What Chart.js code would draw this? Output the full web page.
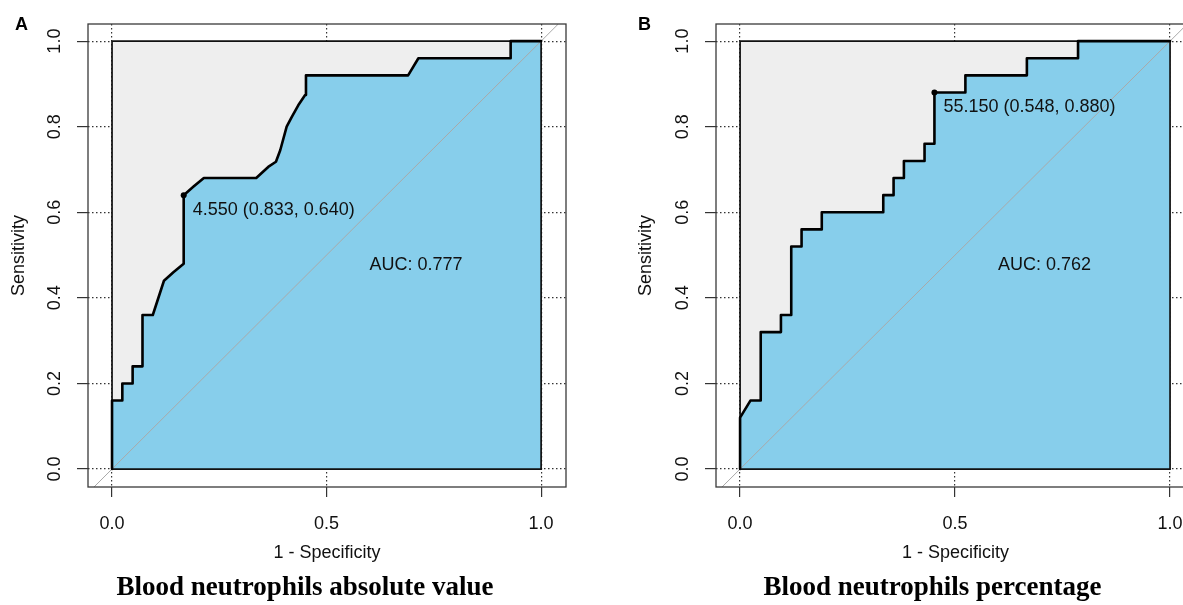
<!DOCTYPE html>
<html>
<head>
<meta charset="utf-8">
<title>ROC curves – blood neutrophils</title>
<script src="https://cdn.jsdelivr.net/npm/chart.js@4.4.1/dist/chart.umd.min.js"></script>
<style>
	html, body { margin: 0; padding: 0; background: #fff; overflow: hidden; }
	body { position: relative; width: 1183px; height: 605px; }
	canvas { position: absolute; top: 0; }
	.panel-tag { position: absolute; top: 15px; font: bold 18px/1 "Liberation Sans", Arial, sans-serif; color: #000; }
</style>
</head>
<body>
<canvas id="roc-abs" width="600" height="605" style="left: 0"></canvas>
<canvas id="roc-pct" width="600" height="605" style="left: 600px"></canvas>
<div class="panel-tag" style="left: 15px">A</div>
<div class="panel-tag" style="left: 638px">B</div>
<script>
'use strict';

// 1 - specificity / sensitivity
const FPR_ABS = [ 0, 0, 0.024, 0.024, 0.048, 0.048, 0.071, 0.071, 0.095, 0.121, 0.143, 0.167, 0.167, 0.19, 0.214,
	0.336, 0.364, 0.382, 0.392, 0.407, 0.419, 0.434, 0.45, 0.452, 0.69, 0.714, 0.929, 0.929, 1 ];
const TPR_ABS = [ 0, 0.16, 0.16, 0.2, 0.2, 0.24, 0.24, 0.36, 0.36, 0.44, 0.46, 0.48, 0.64, 0.66, 0.68,
	0.68, 0.706, 0.718, 0.745, 0.8, 0.823, 0.85, 0.874, 0.92, 0.92, 0.96, 0.96, 1, 1 ];

const FPR_PCT = [ 0, 0, 0.024, 0.048, 0.048, 0.095, 0.095, 0.119, 0.119, 0.143, 0.143, 0.19, 0.19, 0.333, 0.333,
	0.357, 0.357, 0.381, 0.381, 0.429, 0.429, 0.452, 0.452, 0.524, 0.524, 0.667, 0.667, 0.786, 0.786, 1 ];
const TPR_PCT = [ 0, 0.12, 0.16, 0.16, 0.32, 0.32, 0.36, 0.36, 0.52, 0.52, 0.56, 0.56, 0.6, 0.6, 0.64,
	0.64, 0.68, 0.68, 0.72, 0.72, 0.76, 0.76, 0.88, 0.88, 0.92, 0.92, 0.96, 0.96, 1, 1 ];

// best threshold points and their labels
const BEST_ABS = [ 0.167, 0.64 ];
const BEST_PCT = [ 0.452, 0.88 ];
const BEST_LABELS = [ '4.550 (0.833, 0.640)', '55.150 (0.548, 0.880)' ];
const AUC_LABELS = [ 'AUC: 0.777', 'AUC: 0.762' ];
const AUC_AT = [ 0.6, 0.5 ];
const TITLES = [ 'Blood neutrophils absolute value', 'Blood neutrophils percentage' ];

const X_TICKS = [ 0, 0.5, 1 ];
const Y_TICKS = [ 0, 0.2, 0.4, 0.6, 0.8, 1 ];
const X_RANGE = [ -0.056, 1.058 ];
const Y_RANGE = [ -0.042, 1.04 ];

Chart.defaults.font.family = '"Liberation Sans", Arial, sans-serif';
Chart.defaults.color = '#111';

const toPoints = ( xs, ys ) => xs.map( ( v, i ) => ( { x: v, y: ys[ i ] } ) );

// box round the plot region plus the text annotations
const rocDecor = {
	id: 'rocDecor',
	afterDatasetsDraw( chart, args, opts ) {
		const { ctx, chartArea: a, scales: { x, y } } = chart;
		ctx.save();
		ctx.strokeStyle = '#3a3a3a';
		ctx.lineWidth = 1.3;
		ctx.strokeRect( a.left, a.top, a.right - a.left, a.bottom - a.top );

		ctx.fillStyle = '#111';
		ctx.font = '18px "Liberation Sans", Arial, sans-serif';
		ctx.textAlign = 'left';
		ctx.textBaseline = 'middle';
		ctx.fillText( opts.bestLabel,
			x.getPixelForValue( opts.best[ 0 ] ) + 9, y.getPixelForValue( opts.best[ 1 ] ) + 15 );
		ctx.textBaseline = 'top';
		ctx.fillText( opts.aucLabel, x.getPixelForValue( AUC_AT[ 0 ] ), y.getPixelForValue( AUC_AT[ 1 ] ) + 1 );
		ctx.restore();
	}
};

const axisGrid = ( tickLength ) => ( {
	color: '#333',
	lineWidth: 1.2,
	tickLength: tickLength,
	tickColor: '#333',
	tickBorderDash: []
} );

const makeRoc = ( canvasId, fpr, tpr, best, idx, pad, yAxisWidth, yTitlePad ) => {
	const curve = toPoints( fpr, tpr );

	return new Chart( document.getElementById( canvasId ), {
		type: 'line',
		data: {
			datasets: [
				{
					label: 'ROC',
					data: curve,
					borderColor: '#000',
					borderWidth: 2.6,
					borderJoinStyle: 'round',
					borderCapStyle: 'round',
					pointRadius: 0,
					fill: false,
					order: 0
				},
				{
					label: 'Best threshold',
					data: [ { x: best[ 0 ], y: best[ 1 ] } ],
					showLine: false,
					pointRadius: 3,
					pointBackgroundColor: '#000',
					pointBorderWidth: 0,
					order: 0
				},
				{
					label: 'Chance',
					data: [ { x: Y_RANGE[ 0 ], y: Y_RANGE[ 0 ] }, { x: Y_RANGE[ 1 ], y: Y_RANGE[ 1 ] } ],
					borderColor: '#a9a9a9',
					borderWidth: 1,
					pointRadius: 0,
					fill: false,
					order: 1
				},
				{
					label: 'Frame',
					data: toPoints( [ 0, 0, 1, 1, 0 ], [ 0, 1, 1, 0, 0 ] ),
					borderColor: '#111',
					borderWidth: 1.7,
					pointRadius: 0,
					fill: false,
					order: 2
				},
				{
					label: 'AUC',
					data: curve.concat( [ { x: 1, y: 0 } ] ),
					backgroundColor: '#87ceeb',
					borderWidth: 0,
					pointRadius: 0,
					fill: 'origin',
					order: 3
				},
				{
					label: 'Max AUC',
					data: toPoints( [ 0, 0, 1, 1 ], [ 0, 1, 1, 0 ] ),
					backgroundColor: '#eeeeee',
					borderWidth: 0,
					pointRadius: 0,
					fill: 'origin',
					order: 4
				}
			]
		},
		options: {
			responsive: false,
			animation: false,
			events: [],
			layout: { padding: pad },
			elements: { line: { tension: 0 } },
			scales: {
				x: {
					type: 'linear',
					min: X_RANGE[ 0 ],
					max: X_RANGE[ 1 ],
					afterBuildTicks: ( s ) => { s.ticks = X_TICKS.map( ( v ) => ( { value: v } ) ); },
					afterFit: ( s ) => { s.height = 84.4; },
					grid: axisGrid( 10 ),
					border: { display: false, dash: [ 1.5, 2.5 ] },
					ticks: {
						font: { size: 18 },
						color: '#111',
						padding: 16,
						maxRotation: 0,
						autoSkip: false,
						callback: ( v ) => v.toFixed( 1 )
					},
					title: {
						display: true,
						text: '1 - Specificity',
						font: { size: 18 },
						color: '#111',
						padding: { top: 0, bottom: 7.4 }
					}
				},
				y: {
					type: 'linear',
					min: Y_RANGE[ 0 ],
					max: Y_RANGE[ 1 ],
					afterBuildTicks: ( s ) => { s.ticks = Y_TICKS.map( ( v ) => ( { value: v } ) ); },
					afterFit: ( s ) => { s.width = yAxisWidth; },
					grid: axisGrid( 11 ),
					border: { display: false, dash: [ 1.5, 2.5 ] },
					ticks: {
						font: { size: 18 },
						color: '#111',
						padding: 9,
						minRotation: 90,
						maxRotation: 90,
						crossAlign: 'center',
						autoSkip: false,
						callback: ( v ) => v.toFixed( 1 )
					},
					title: {
						display: true,
						text: 'Sensitivity',
						font: { size: 18 },
						color: '#111',
						padding: { top: yTitlePad, bottom: 0 }
					}
				}
			},
			plugins: {
				legend: { display: false },
				tooltip: { enabled: false },
				title: {
					display: true,
					position: 'bottom',
					text: TITLES[ idx ],
					color: '#000',
					font: { family: '"Liberation Serif", "Times New Roman", serif', size: 27, weight: 'bold', lineHeight: 1.2 },
					padding: { top: 0, bottom: 1.2 }
				},
				rocDecor: {
					best: best,
					bestLabel: BEST_LABELS[ idx ],
					aucLabel: AUC_LABELS[ idx ]
				}
			}
		},
		plugins: [ rocDecor ]
	} );
};

makeRoc( 'roc-abs', FPR_ABS, TPR_ABS, BEST_ABS, 0, { left: 44, right: 34, top: 24, bottom: 0 }, 44, -35.5 );
makeRoc( 'roc-pct', FPR_PCT, TPR_PCT, BEST_PCT, 1, { left: 70, right: 5, top: 24, bottom: 0 }, 46, -34.5 );
</script>
</body>
</html>
